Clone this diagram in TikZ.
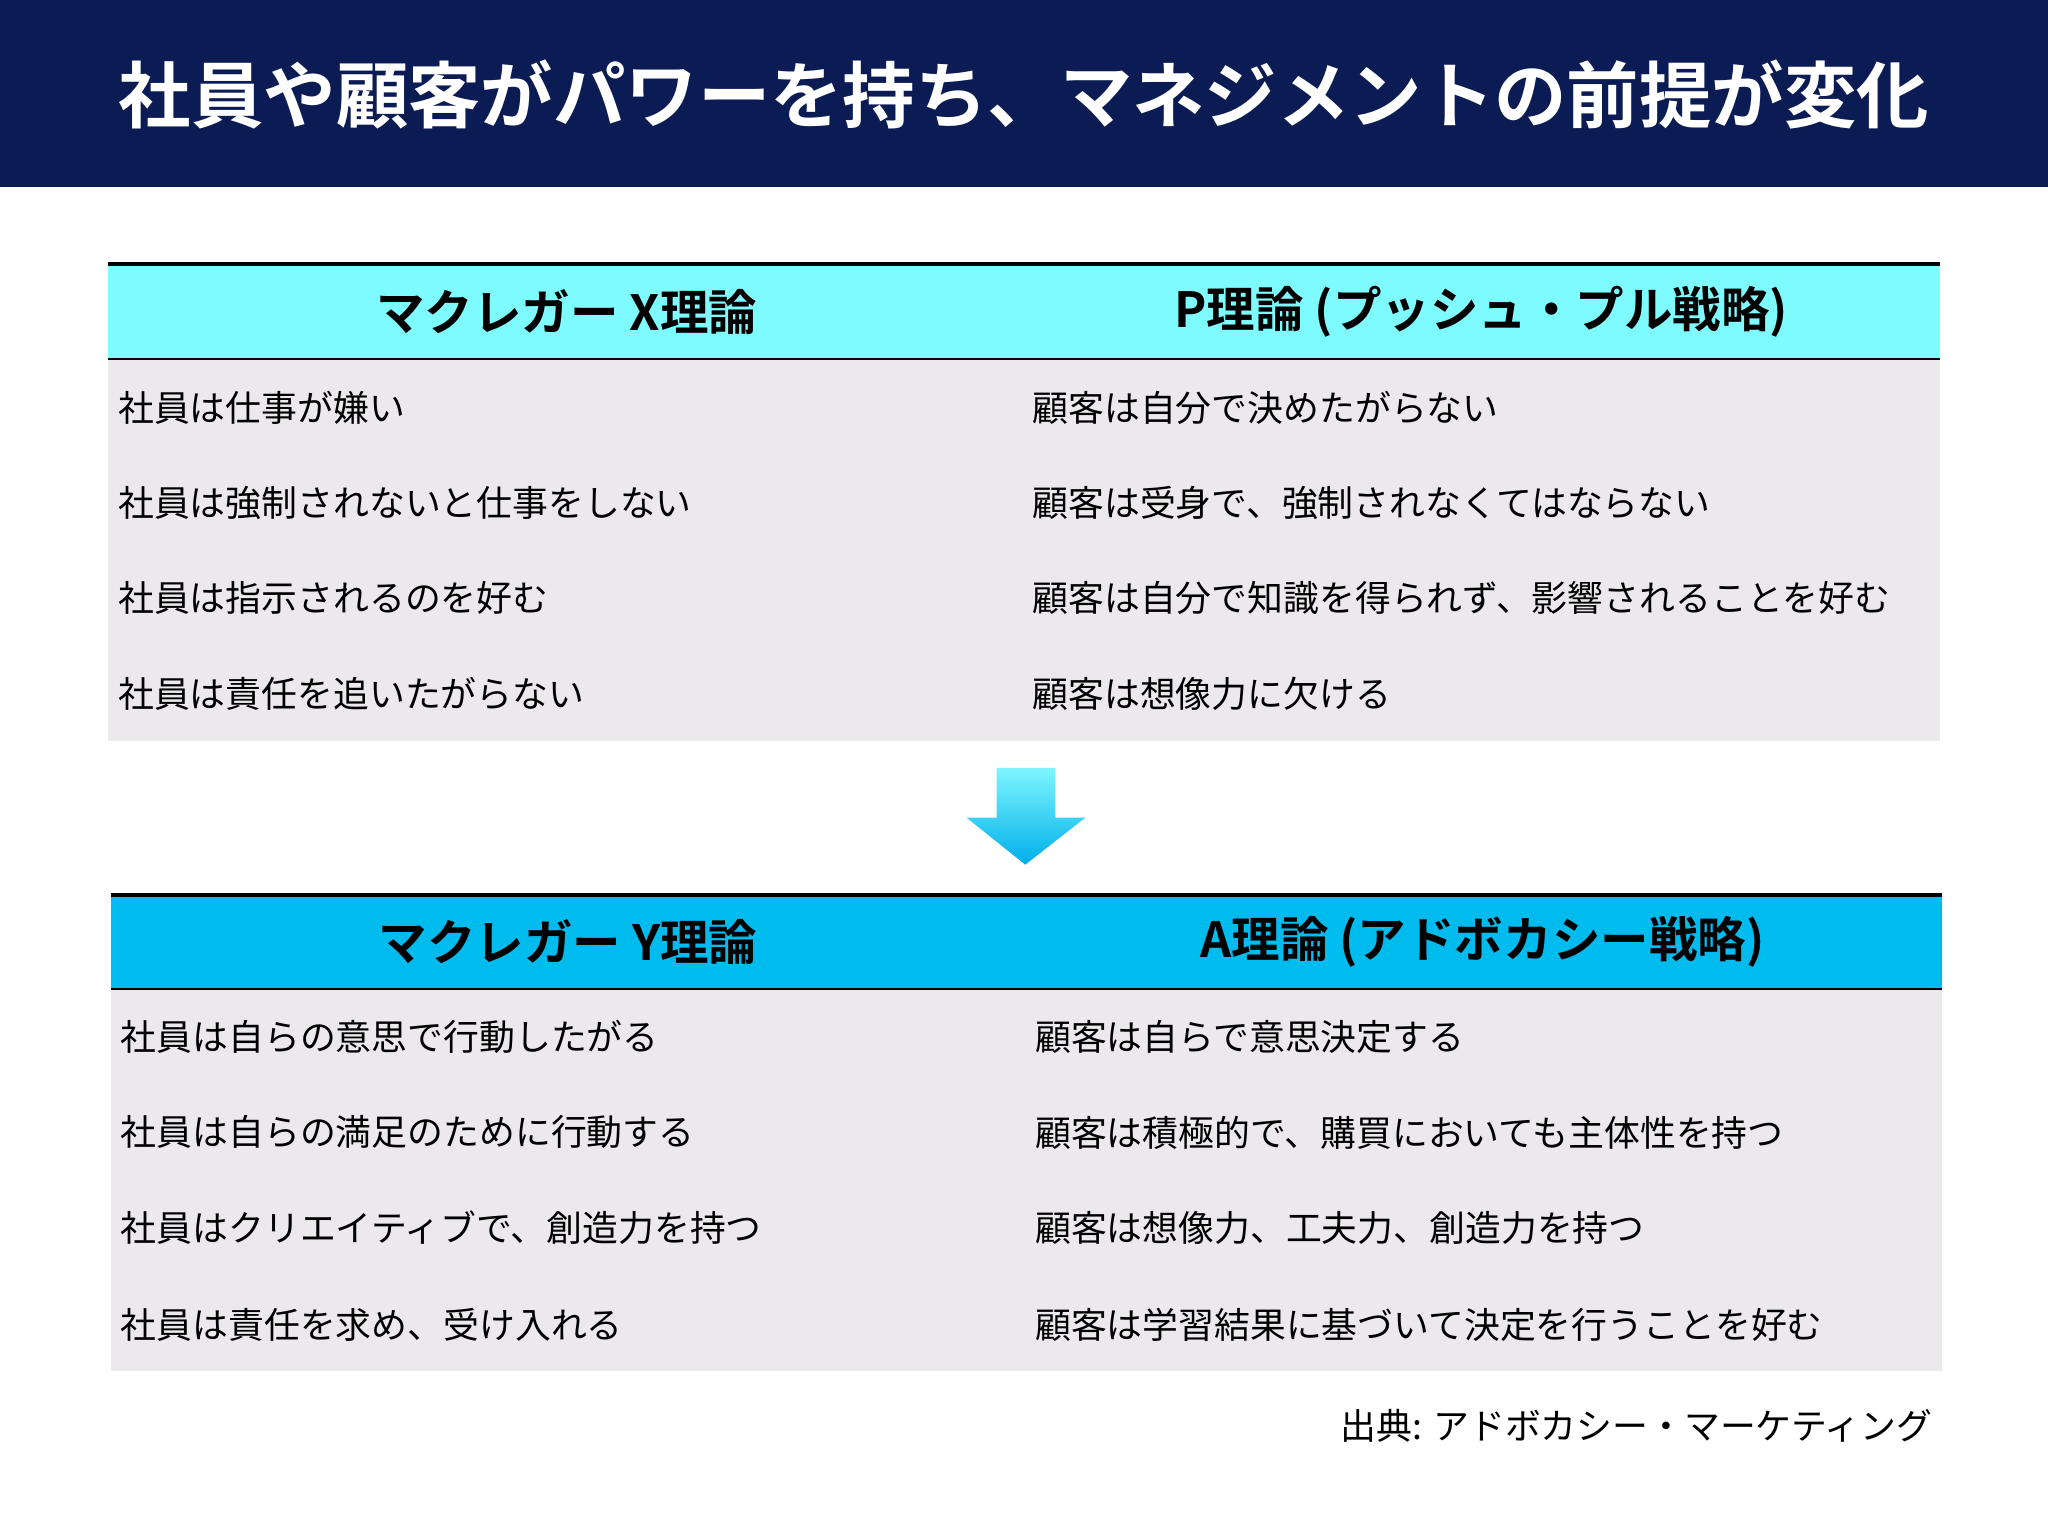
\documentclass[tikz,border=0pt]{standalone}
\usepackage{fontspec}
\setmainfont{Noto Sans CJK JP}
\newfontfamily\jpb{Noto Sans CJK JP Bold}
\definecolor{navy}{HTML}{0B1B54}
\definecolor{cyanA}{HTML}{7DFBFF}
\definecolor{cyanB}{HTML}{00BBEE}
\definecolor{bodyg}{HTML}{EBE9EC}
\definecolor{arrtop}{HTML}{7DF6FF}
\definecolor{arrbot}{HTML}{00AEEA}
\begin{document}
\begin{tikzpicture}[x=0.013061cm,y=-0.013061cm,
  body/.style={anchor=west,font=\fontsize{10.2pt}{12pt}\selectfont,inner sep=0pt},
  head/.style={font=\jpb\fontsize{13.8pt}{16pt}\selectfont,inner sep=0pt}]
\useasboundingbox (0,0) rectangle (1568,1176);
\fill[white] (0,0) rectangle (1568,1176);
\fill[navy] (0,0) rectangle (1568,143);
\node[text=white,font=\jpb\fontsize{20.6pt}{24pt}\selectfont,inner sep=0pt] (title) at (784,72) {社員や顧客がパワーを持ち、マネジメントの前提が変化};
% table 1
\fill[cyanA] (83,202) rectangle (1485,275);
\fill[bodyg] (83,275) rectangle (1485,567);
\draw[line width=1.2pt] (83,202) -- (1485,202);
\draw[line width=0.5pt] (83,275) -- (1485,275);
\node[head] (h1) at (434,239) {マクレガー X理論};
\node[head] (h2) at (1134,239) {P理論 (プッシュ・プル戦略)};
\node[body] (a1) at (90,312) {社員は仕事が嫌い};
\node[body] (a2) at (90,385) {社員は強制されないと仕事をしない};
\node[body] (a3) at (90,458) {社員は指示されるのを好む};
\node[body] (a4) at (90,531) {社員は責任を追いたがらない};
\node[body] (b1) at (790,312) {顧客は自分で決めたがらない};
\node[body] (b2) at (790,385) {顧客は受身で、強制されなくてはならない};
\node[body] (b3) at (790,458) {顧客は自分で知識を得られず、影響されることを好む};
\node[body] (b4) at (790,531) {顧客は想像力に欠ける};
% arrow
\shade[top color=arrtop,bottom color=arrbot] (763,588) -- (808,588) -- (808,626) -- (831,626) -- (785,662) -- (740,626) -- (763,626) -- cycle;
% table 2
\fill[cyanB] (85,685) rectangle (1487,757);
\fill[bodyg] (85,757) rectangle (1487,1050);
\draw[line width=1.2pt] (85,685) -- (1487,685);
\draw[line width=0.5pt] (85,757) -- (1487,757);
\node[head] (h3) at (435,721) {マクレガー Y理論};
\node[head] (h4) at (1135,721) {A理論 (アドボカシー戦略)};
\node[body] (c1) at (92,794) {社員は自らの意思で行動したがる};
\node[body] (c2) at (92,867) {社員は自らの満足のために行動する};
\node[body] (c3) at (92,940) {社員はクリエイティブで、創造力を持つ};
\node[body] (c4) at (92,1014) {社員は責任を求め、受け入れる};
\node[body] (d1) at (792,794) {顧客は自らで意思決定する};
\node[body] (d2) at (792,867) {顧客は積極的で、購買においても主体性を持つ};
\node[body] (d3) at (792,940) {顧客は想像力、工夫力、創造力を持つ};
\node[body] (d4) at (792,1014) {顧客は学習結果に基づいて決定を行うことを好む};
\node[body,anchor=east] (src) at (1480,1092) {出典: アドボカシー・マーケティング};
\end{tikzpicture}
\end{document}
